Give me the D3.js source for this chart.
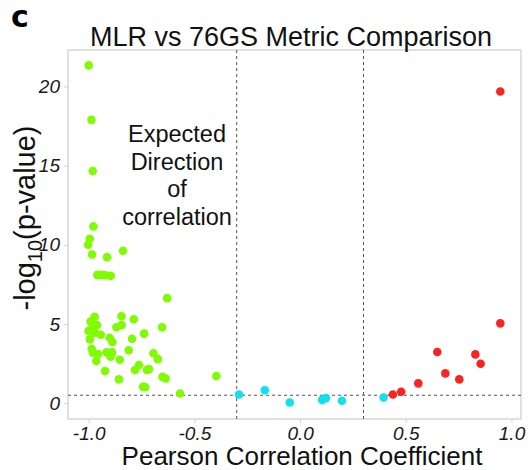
<!DOCTYPE html>
<html>
<head>
<meta charset="utf-8">
<script src="https://cdn.jsdelivr.net/npm/d3@7"></script>
<style>
  body { margin: 0; background: #fff; }
  svg text { font-family: "Liberation Sans", Arial, Helvetica, sans-serif; }
</style>
</head>
<body>
<div id="chart"></div>
<script>
// pearson r and -log10(p) per metric, grouped by direction
var negR = [-1.000, -0.987, -0.981, -0.978, -0.995, -1.003, -0.984, -0.913, -0.838, -0.959,
            -0.937, -0.920, -0.896, -0.629, -0.972, -0.845, -0.787, -0.991, -0.961, -0.844,
            -0.869, -0.653, -1.001, -0.982, -0.970, -0.943, -0.738, -0.901, -0.795, -0.995,
            -0.888, -0.986, -0.811, -0.916, -0.890, -0.980, -0.956, -0.694, -0.897, -0.673,
            -0.853, -0.964, -0.762, -0.781, -0.725, -0.715, -0.923, -0.651, -0.636, -0.857,
            -0.743, -0.733, -0.568, -0.396];
var negP = [21.33, 17.89, 14.66, 11.16, 10.38, 10.00, 9.39, 9.22, 9.62, 8.10,
            8.10, 8.08, 8.04, 6.63, 5.46, 5.49, 5.30, 5.15, 4.94, 4.94,
            4.79, 4.79, 4.56, 4.73, 4.45, 4.32, 4.39, 4.13, 4.07, 4.03,
            3.86, 3.44, 3.34, 3.21, 3.21, 3.18, 3.10, 3.15, 2.93, 2.78,
            2.74, 2.66, 2.41, 2.09, 2.09, 2.15, 2.03, 1.66, 1.56, 1.50,
            1.03, 1.01, 0.61, 1.71];
var nsR = [-0.289, -0.167, -0.049, 0.104, 0.122, 0.198, 0.395];
var nsP = [0.55, 0.82, 0.04, 0.21, 0.32, 0.15, 0.36];
var posR = [0.439, 0.478, 0.559, 0.687, 0.649, 0.753, 0.829, 0.854, 0.947, 0.947];
var posP = [0.55, 0.72, 1.25, 1.88, 3.23, 1.50, 3.08, 2.49, 5.04, 19.68];

var xTicks = [-1, -0.5, 0, 0.5, 1];
var yTicks = [0, 5, 10, 15, 20];
var rCut = 0.3, pCut = 0.5;

var groups = [
  { r: negR, p: negP, color: "#7ffc00" },
  { r: nsR, p: nsP, color: "#12dff0" },
  { r: posR, p: posP, color: "#fb2222" }
];

var width = 528, height = 470;
var plotL = 68, plotR = 521, plotT = 50, plotB = 419;

var svg = d3.select("#chart").append("svg")
    .attr("width", width)
    .attr("height", height);

var x = d3.scaleLinear().domain([-1.098, 1.045]).range([plotL, plotR]);
var y = d3.scaleLinear().domain([-1, 22.3]).range([plotB, plotT]);

// panel frame
svg.append("rect")
    .attr("x", plotL).attr("y", plotT)
    .attr("width", plotR - plotL).attr("height", plotB - plotT)
    .attr("fill", "#fff")
    .attr("stroke", "#d6d6d6")
    .attr("stroke-width", 1.5);

// axes
var xAxis = svg.append("g")
    .attr("transform", "translate(0," + plotB + ")")
    .call(d3.axisBottom(x).tickValues(xTicks).tickSize(4).tickPadding(4)
        .tickFormat(function (d) { return d.toFixed(1); }));
var yAxis = svg.append("g")
    .attr("transform", "translate(" + plotL + ",0)")
    .call(d3.axisLeft(y).tickValues(yTicks).tickSize(4).tickPadding(4));

[xAxis, yAxis].forEach(function (g) {
  g.select(".domain").remove();
  g.selectAll(".tick line").attr("stroke", "#cfcfcf");
  g.selectAll(".tick text")
      .attr("fill", "#1a1a1a")
      .style("font-size", "19px")
      .style("font-style", "italic")
      .style("font-family", "'Liberation Sans', Arial, sans-serif");
});

// significance cut-offs
var dash = "3,3";
[-rCut, rCut].forEach(function (v) {
  svg.append("line")
      .attr("x1", x(v)).attr("x2", x(v))
      .attr("y1", plotT).attr("y2", plotB)
      .attr("stroke", "#555").attr("stroke-dasharray", dash);
});
svg.append("line")
    .attr("x1", plotL).attr("x2", plotR)
    .attr("y1", y(pCut)).attr("y2", y(pCut))
    .attr("stroke", "#555").attr("stroke-dasharray", dash);

// points
groups.forEach(function (g) {
  svg.append("g").selectAll("circle")
      .data(d3.range(g.r.length))
      .enter().append("circle")
      .attr("cx", function (i) { return x(g.r[i]); })
      .attr("cy", function (i) { return y(g.p[i]); })
      .attr("r", 4.3)
      .attr("fill", g.color);
});

// annotation
var note = svg.append("text")
    .attr("text-anchor", "middle")
    .attr("fill", "#111")
    .style("font-size", "23.5px");
["Expected", "Direction", "of", "correlation"].forEach(function (t, i) {
  note.append("tspan").attr("x", 177).attr("y", 142 + i * 27.5).text(t);
});

// titles
svg.append("text")
    .attr("x", 291).attr("y", 46)
    .attr("text-anchor", "middle")
    .attr("fill", "#111")
    .style("font-size", "27px")
    .text("MLR vs 76GS Metric Comparison");

svg.append("text")
    .attr("x", 11).attr("y", 27)
    .attr("fill", "#000")
    .style("font-size", "30px")
    .style("font-weight", "900")
    .style("font-family", "'DejaVu Sans', Arial, sans-serif")
    .text("c");

svg.append("text")
    .attr("x", 302).attr("y", 465)
    .attr("text-anchor", "middle")
    .attr("fill", "#111")
    .style("font-size", "26px")
    .text("Pearson Correlation Coefficient");

var yTitle = svg.append("text")
    .attr("transform", "translate(35,218) rotate(-90)")
    .attr("text-anchor", "middle")
    .attr("fill", "#111")
    .style("font-size", "29px");
yTitle.append("tspan").text("-log");
yTitle.append("tspan").attr("dy", 7).style("font-size", "20px").text("10");
yTitle.append("tspan").attr("dy", -7).text("(p-value)");
</script>
</body>
</html>
